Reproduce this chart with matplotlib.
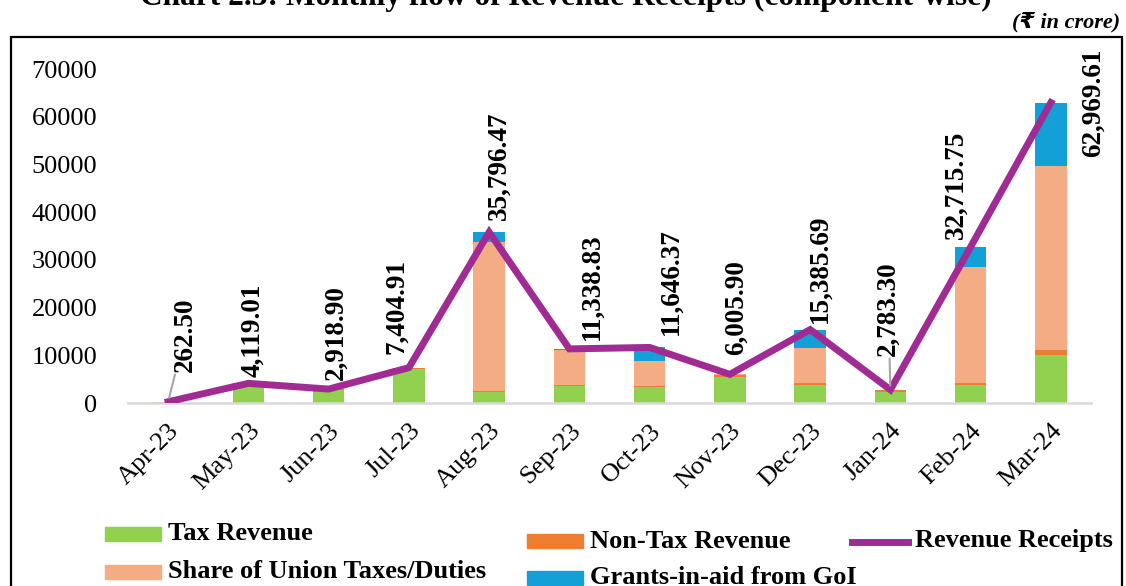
import matplotlib
matplotlib.use("Agg")
import matplotlib.pyplot as plt
from matplotlib.patches import Rectangle
from matplotlib.lines import Line2D
import numpy as np

# chart values (Rs. in crore)
months = ["Apr-23", "May-23", "Jun-23", "Jul-23", "Aug-23", "Sep-23",
          "Oct-23", "Nov-23", "Dec-23", "Jan-24", "Feb-24", "Mar-24"]
tax_revenue = [60, 3950, 2650, 7100, 2300, 3600, 3350, 5550, 3700, 2350, 3700, 10000]
non_tax_revenue = [30, 169.01, 268.9, 250, 300, 150, 250, 350, 450, 300, 500, 1200]
share_union_taxes = [172.5, 0, 0, 54.91, 31200, 7400, 5150, 105.9, 7400, 133.3, 24300, 38400]
grants_in_aid = [0, 0, 0, 0, 1996.47, 188.83, 2896.37, 0, 3835.69, 0, 4215.75, 13369.61]
revenue_receipts = [262.50, 4119.01, 2918.90, 7404.91, 35796.47, 11338.83,
                    11646.37, 6005.90, 15385.69, 2783.30, 32715.75, 62969.61]

# label placement (pixel offsets from the line point)
label_offsets = [(17, 30), (4, 6), (7, 9), (-12, 14), (10, 12), (23, 9),
                 (21, 12), (6, 19), (10, 7), (-2, 34), (-15, 8), (42, 0)]

GREEN = "#92D050"
ORANGE = "#ED7D31"
PEACH = "#F4AC84"
BLUE = "#12A0D7"
PURPLE = "#A02B93"

plt.rcParams.update({
    'font.family': ['Liberation Serif', 'DejaVu Serif', 'DejaVu Sans'],
    'font.size': 19,
})

fig = plt.figure(figsize=(11.26, 5.86), dpi=100)
ax = fig.add_axes([128 / 1126, 1 - 403 / 586, 963 / 1126, 334 / 586])

x = np.arange(len(months))
w = 0.39
tax = np.array(tax_revenue)
nontax = np.array(non_tax_revenue)
share = np.array(share_union_taxes)
grants = np.array(grants_in_aid)

ax.bar(x, tax, w, color=GREEN, zorder=2)
ax.bar(x, nontax, w, bottom=tax, color=ORANGE, zorder=2)
ax.bar(x, share, w, bottom=tax + nontax, color=PEACH, zorder=2)
ax.bar(x, grants, w, bottom=tax + nontax + share, color=BLUE, zorder=2)
ax.plot(x, revenue_receipts, color=PURPLE, lw=5, zorder=3, solid_joinstyle='miter')

for i, val in enumerate(revenue_receipts):
    dx, dy = label_offsets[i]
    va = 'center' if dy == 0 else 'bottom'
    arrow = None
    if i in (0, 9):
        arrow = dict(arrowstyle='-', color='#A6A6A6', lw=1.5, shrinkA=0, shrinkB=3)
    ax.annotate(f"{val:,.2f}", (i, val), xytext=(dx, dy), textcoords='offset pixels',
                rotation=90, ha='center', va=va, fontweight='bold', fontsize=19.5,
                arrowprops=arrow, zorder=4)

ax.set_xlim(-0.5, len(months) - 0.5)
ax.set_ylim(0, 70000)
ax.set_yticks(np.arange(0, 70001, 10000))
ax.set_yticklabels([str(v) for v in range(0, 70001, 10000)])
ax.set_xticks(x)
ax.set_xticklabels(months, rotation=45, ha='right', rotation_mode='anchor')
ax.tick_params(axis='y', length=0, pad=22, labelsize=19)
ax.tick_params(axis='x', length=0, pad=12, labelsize=19)
for s in ('top', 'right', 'left'):
    ax.spines[s].set_visible(False)
ax.spines['bottom'].set_color('#D9D9D9')
ax.spines['bottom'].set_linewidth(1.8)

# outer frame
fig.patches.append(Rectangle((11 / 1126, -0.02), 1111 / 1126, 1.02 - 37 / 586,
                             transform=fig.transFigure, fill=False,
                             edgecolor='black', lw=1.6))

fig.text(566 / 1126, 1 - 5 / 586, "Chart 2.3: Monthly flow of Revenue Receipts (component-wise)",
         ha='center', va='baseline', fontsize=22.6, fontweight='bold')
fig.text(1120 / 1126, 1 - 22 / 586, "(\u20b9 in crore)", ha='right', va='center',
         fontsize=16, fontweight='bold', style='italic',
         family=['Liberation Serif', 'DejaVu Sans'])

# legend, laid out by hand like the original
def legend_patch(px, py, color, text):
    fig.patches.append(Rectangle((px / 1126, 1 - (py + 7) / 586), 56 / 1126, 14 / 586,
                                 transform=fig.transFigure, color=color))
    fig.text((px + 63) / 1126, 1 - py / 586, text, ha='left', va='center',
             fontsize=19, fontweight='bold')

legend_patch(105, 534, GREEN, "Tax Revenue")
legend_patch(527, 541, ORANGE, "Non-Tax Revenue")
legend_patch(105, 572, PEACH, "Share of Union Taxes/Duties")
legend_patch(527, 578, BLUE, "Grants-in-aid from GoI")
fig.lines.append(Line2D([852 / 1126, 908 / 1126], [1 - 542 / 586, 1 - 542 / 586],
                        transform=fig.transFigure, color=PURPLE, lw=5))
fig.text(915 / 1126, 1 - 541 / 586, "Revenue Receipts", ha='left', va='center',
         fontsize=19, fontweight='bold')

fig.savefig("out.png", dpi=100)
